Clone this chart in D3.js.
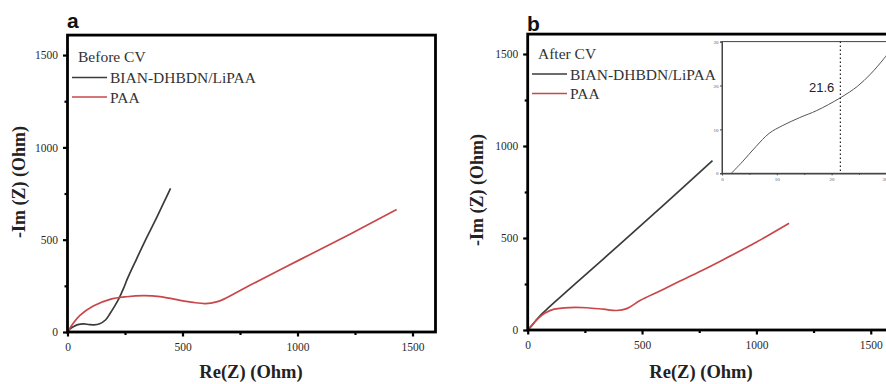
<!DOCTYPE html>
<html><head><meta charset="utf-8">
<script src="https://cdn.jsdelivr.net/npm/d3@7"></script>
<style>body{margin:0;background:#fff}svg{display:block}</style>
</head><body>
<svg id="c" width="886" height="384"></svg>
<script>
// ---- data ----
const xTicks = [0, 500, 1000, 1500];
const yTicks = [0, 500, 1000, 1500];
const minorTicks = [250, 750, 1250];
const seriesNames = ["BIAN-DHBDN/LiPAA", "PAA"];
const panelLetters = ["a", "b"];
const panelTitles = ["Before CV", "After CV"];

const beforeLiPAA = [[0,0],[10,15],[25,28],[45,40],[70,44],[95,40],[115,39],[140,45],[165,65],[185,100],[205,140],[225,185],[245,240],[261,290],[300,395],[340,500],[380,600],[420,705],[448,778]];
const beforePAA = [[0,0],[10,20],[25,47],[54,90],[112,141],[185,177],[257,191],[330,197],[402,192],[475,175],[547,160],[600,154],[648,163],[680,178],[793,253],[1011,392],[1228,530],[1431,664]];
const afterLiPAA = [[0,0],[15,20],[35,50],[60,85],[90,120],[200,242],[400,463],[600,685],[808,920]];
const afterPAA = [[0,0],[20,28],[45,62],[76,92],[112,112],[185,122],[258,121],[331,113],[389,106],[433,116],[491,160],[578,212],[666,266],[760,322],[855,382],[1001,478],[1143,580]];

const insetCurve = [[1.7,0],[3.7,2.6],[6.2,6.1],[8.6,9.1],[11.1,10.9],[14.2,12.7],[17.3,14.3],[21.6,17.2],[24.7,19.8],[27.1,22.6],[29.6,26.2],[31,28.6]];
const insetMarker = 21.6;
const insetXTicks = [0, 10, 20, 30];
const insetXMinor = [5, 15, 25];
const insetYTicks = [0, 10, 20, 30];

// ---- layout ----
const svg = d3.select("#c");
const colors = ["#3b3b3b", "#c9474b"];
const serif = "'Liberation Serif','Times New Roman',serif";
const sans = "'Liberation Sans',Arial,sans-serif";

const panels = [
  {x0:67.5, x1:435.5, y0:332, y1:36.6, data:[beforeLiPAA, beforePAA],
   letterX:67, letterY:28, titleX:251, ylabX:18, ylabY:182, leg:{x:72, y:57}},
  {x0:527.7, x1:893.6, y0:330, y1:35.6, data:[afterLiPAA, afterPAA],
   letterX:527, letterY:30.5, titleX:701, ylabX:476, ylabY:190, leg:{x:532, y:53.5}}
];

panels.forEach((p, i) => {
  const g = svg.append("g");
  const x = d3.scaleLinear().domain([0,1600]).range([p.x0, p.x1]);
  const y = d3.scaleLinear().domain([0,1600]).range([p.y0, p.y1]);

  // axes
  const ax = g.append("g").attr("transform", `translate(0,${p.y0})`)
    .call(d3.axisBottom(x).tickValues(xTicks).tickSize(4.5).tickPadding(6).tickFormat(d3.format("d")));
  const axm = g.append("g").attr("transform", `translate(0,${p.y0})`)
    .call(d3.axisBottom(x).tickValues(minorTicks).tickSize(3).tickFormat(""));
  const ay = g.append("g").attr("transform", `translate(${p.x0},0)`)
    .call(d3.axisLeft(y).tickValues(yTicks).tickSize(4.5).tickPadding(5).tickFormat(d3.format("d")));
  const aym = g.append("g").attr("transform", `translate(${p.x0},0)`)
    .call(d3.axisLeft(y).tickValues(minorTicks).tickSize(3).tickFormat(""));
  [ax, axm, ay, aym].forEach(a => {
    a.select(".domain").remove();
    a.selectAll("line").attr("stroke", "#000").attr("stroke-width", 2.2);
    a.selectAll("text").attr("font-family", serif).attr("font-size", 11.5).attr("fill", "#2a2a2a");
  });

  // curves
  const line = d3.line().x(d => x(d[0])).y(d => y(d[1])).curve(d3.curveCatmullRom.alpha(0.5));
  p.data.forEach((ds, k) => {
    g.append("path").datum(ds).attr("d", line).attr("fill", "none")
      .attr("stroke", colors[k]).attr("stroke-width", 1.7).attr("stroke-linejoin", "round");
  });

  // frame
  g.append("rect").attr("x", p.x0).attr("y", p.y1 - 1.5).attr("width", p.x1 - p.x0).attr("height", p.y0 - p.y1 + 1.5)
    .attr("fill", "none").attr("stroke", "#000").attr("stroke-width", 2.8);

  // legend
  g.append("text").attr("x", p.leg.x + 6).attr("y", p.leg.y + 5).text(panelTitles[i])
    .attr("font-family", serif).attr("font-size", 15.5).attr("fill", "#333");
  seriesNames.forEach((n, k) => {
    const ly = p.leg.y + 20.5 + k * 19.5;
    g.append("line").attr("x1", p.leg.x).attr("x2", p.leg.x + 35).attr("y1", ly).attr("y2", ly)
      .attr("stroke", colors[k]).attr("stroke-width", 1.7);
    g.append("text").attr("x", p.leg.x + 38).attr("y", ly + 5.5).text(n)
      .attr("font-family", serif).attr("font-size", 15.5).attr("fill", "#333");
  });

  // titles
  g.append("text").attr("x", p.titleX).attr("y", 377.5).attr("text-anchor", "middle")
    .attr("font-family", serif).attr("font-weight", "bold").attr("font-size", 18.5).attr("fill", "#222")
    .text("Re(Z) (Ohm)");
  g.append("text").attr("transform", `translate(${p.ylabX + 6.5},${p.ylabY}) rotate(-90)`)
    .attr("text-anchor", "middle").attr("font-family", serif).attr("font-weight", "bold")
    .attr("font-size", 18).attr("fill", "#222").text("-Im (Z) (Ohm)");
  g.append("text").attr("x", p.letterX).attr("y", p.letterY).text(panelLetters[i])
    .attr("font-family", sans).attr("font-weight", "bold").attr("font-size", 21).attr("fill", "#111");
});

// ---- inset ----
const ix = d3.scaleLinear().domain([0, 30]).range([722, 886.4]);
const iy = d3.scaleLinear().domain([0, 30]).range([173.3, 41.6]);
const ig = svg.append("g");
ig.append("rect").attr("x", 722).attr("y", 41.6).attr("width", 200).attr("height", 173.3 - 41.6)
  .attr("fill", "#fff").attr("stroke", "#444").attr("stroke-width", 1);
const iax = ig.append("g").attr("transform", "translate(0,173.3)")
  .call(d3.axisBottom(ix).tickValues(insetXTicks).tickSize(2).tickPadding(2));
const iaxm = ig.append("g").attr("transform", "translate(0,173.3)")
  .call(d3.axisBottom(ix).tickValues(insetXMinor).tickSize(1.5).tickFormat(""));
const iay = ig.append("g").attr("transform", "translate(722,0)")
  .call(d3.axisLeft(iy).tickValues(insetYTicks).tickSize(2).tickPadding(1.5));
[iax, iaxm, iay].forEach(a => {
  a.select(".domain").attr("stroke", "#444");
  a.selectAll("line").attr("stroke", "#444");
  a.selectAll("text").attr("font-family", serif).attr("font-size", 5).attr("fill", "#555");
});
// keep the last inset x label inside the canvas edge
iax.selectAll(".tick text").filter(d => d === 30).attr("text-anchor", "end").attr("dx", 0.5);
ig.append("path").datum(insetCurve)
  .attr("d", d3.line().x(d => ix(d[0])).y(d => iy(d[1])).curve(d3.curveCatmullRom.alpha(0.5)))
  .attr("fill", "none").attr("stroke", "#555").attr("stroke-width", 1);
ig.append("line").attr("x1", ix(insetMarker)).attr("x2", ix(insetMarker)).attr("y1", iy(30)).attr("y2", iy(0))
  .attr("stroke", "#222").attr("stroke-width", 1.2).attr("stroke-dasharray", "1.5,2.5");
ig.append("text").attr("x", ix(insetMarker) - 6).attr("y", 92).attr("text-anchor", "end")
  .attr("font-family", sans).attr("font-size", 13).attr("fill", "#222").text(String(insetMarker));
</script>
</body></html>
